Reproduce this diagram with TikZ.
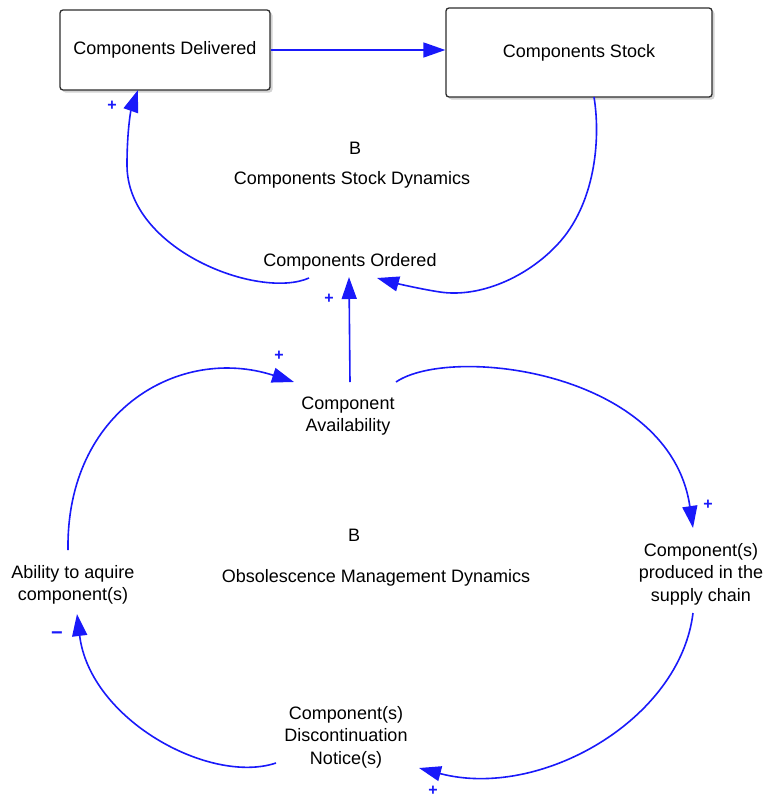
\documentclass[tikz,border=0pt]{standalone}
\usepackage{fontspec}
\setmainfont{Liberation Sans}
\usetikzlibrary{arrows.meta,shadows}
\definecolor{linkblue}{RGB}{25,25,250}
\definecolor{boxline}{RGB}{45,45,45}
\begin{document}
\begin{tikzpicture}[x=1pt,y=-1pt,
  every node/.style={font=\fontsize{18}{22.5}\selectfont, align=center, inner sep=0pt},
  stockbox/.style={draw=boxline, line width=1.3pt, rounded corners=3pt, fill=white,
    drop shadow={shadow xshift=2.5pt, shadow yshift=-2.5pt, opacity=0.35, fill=gray}},
  link/.style={draw=linkblue, line width=1.6pt, -{Triangle[length=22pt,width=15pt]}},
  pol/.style={text=linkblue, font=\fontsize{16}{16}\selectfont\bfseries}]
\useasboundingbox (0,0) rectangle (764,798);
% nodes
\node[stockbox, minimum width=210pt, minimum height=80pt] (delivered) at (165,50) {Components Delivered};
\node[stockbox, minimum width=266pt, minimum height=89pt] (stock) at (579,52.5) {Components Stock};
\node (ordered) at (350,262) {Components Ordered};
\node (avail) at (348,416) {Component\\Availability};
\node (ability) at (73,585) {Ability to aquire\\component(s)};
\node (produced) at (701,574) {Component(s)\\produced in the\\supply chain};
\node (notice) at (346,737) {Component(s)\\Discontinuation\\Notice(s)};
\node (b1) at (355,148) {B};
\node (csd) at (352,180) {Components Stock Dynamics};
\node (b2) at (354,535) {B};
\node (omd) at (376,578) {Obsolescence Management Dynamics};
% polarity labels
\node[pol] (p1) at (112,106) {+};
\node[pol] (p2) at (329,299) {+};
\node[pol] (p3) at (279,356) {+};
\node[pol] (p4) at (708,505) {+};
\node[pol] (p5) at (433,791) {+};
\node[pol, font=\fontsize{20}{20}\selectfont\bfseries] (m1) at (57,636) {−};
% connectors
\draw[link] (delivered.east) -- (delivered.east -| stock.west);
\draw[link] ([shift={(-41,16)}]ordered.center)
  .. controls (259,300) and (127,250) .. (127,165)
  .. controls (127,130) and (131,110) .. ([shift={(-27,40)}]delivered.center);
\draw[link] ([shift={(15,44.5)}]stock.center)
  .. controls (601,140) and (595,205) .. (557,245)
  .. controls (527,277) and (480,298) .. (440,292)
  .. controls (420,289) and (395,283) .. ([shift={(27,16)}]ordered.center);
\draw[link] ([shift={(2,-34)}]avail.center) -- ([shift={(-1,15)}]ordered.center);
\draw[link] ([shift={(-5,-35)}]ability.center)
  .. controls (66,410) and (180,345) .. ([shift={(-54,-34)}]avail.center);
\draw[link] ([shift={(48,-34)}]avail.center)
  .. controls (450,345) and (670,370) .. ([shift={(-8,-46)}]produced.center);
\draw[link] ([shift={(-8,39)}]produced.center)
  .. controls (680,720) and (540,800) .. ([shift={(73,31)}]notice.center);
\draw[link] ([shift={(-70,26)}]notice.center)
  .. controls (210,785) and (90,720) .. ([shift={(4,29)}]ability.center);
\end{tikzpicture}
\end{document}
